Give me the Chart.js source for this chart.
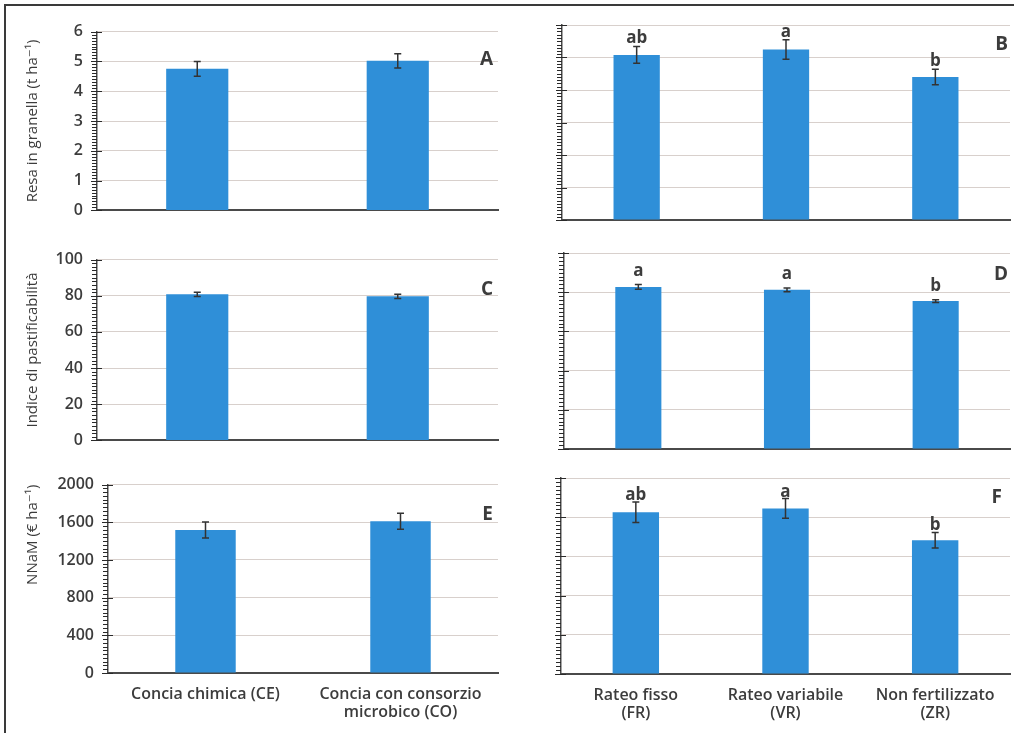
<!DOCTYPE html>
<html><head><meta charset="utf-8">
<script src="https://cdn.jsdelivr.net/npm/chart.js@4/dist/chart.umd.min.js"></script>
<style>
html,body{margin:0;padding:0;background:#fff;width:1017px;height:733px;overflow:hidden;}
#frame{position:absolute;left:4px;top:4px;width:1010px;height:760px;border-top:2px solid #3a3a3a;border-left:2px solid #3a3a3a;box-sizing:border-box;}
.p{position:absolute;}
canvas{display:block;}
</style></head><body>
<div id="frame"></div>
<div class="p" id="wA"><canvas id="cA"></canvas></div>
<div class="p" id="wB"><canvas id="cB"></canvas></div>
<div class="p" id="wC"><canvas id="cC"></canvas></div>
<div class="p" id="wD"><canvas id="cD"></canvas></div>
<div class="p" id="wE"><canvas id="cE"></canvas></div>
<div class="p" id="wF"><canvas id="cF"></canvas></div>
<script>
// ---------- DATA ----------
const treatmentLabels = ['Concia chimica (CE)', ['Concia con consorzio', 'microbico (CO)']];
const fertLabels = [['Rateo fisso', '(FR)'], ['Rateo variabile', '(VR)'], ['Non fertilizzato', '(ZR)']];

const yieldTreat = [4.75, 5.02];
const yieldTreatSE = [0.25, 0.24];
const yieldFert = [5.08, 5.25, 4.40];
const yieldFertSE = [0.26, 0.30, 0.24];
const yieldFertLetters = ['ab', 'a', 'b'];

const pastaTreat = [80.8, 79.7];
const pastaTreatSE = [1.2, 1.2];
const pastaFert = [82.7, 81.2, 75.5];
const pastaFertSE = [1.2, 1.0, 0.7];
const pastaFertLetters = ['a', 'a', 'b'];

const nnamTreat = [1518, 1610];
const nnamTreatSE = [85, 85];
const nnamFert = [1650, 1690, 1365];
const nnamFertSE = [105, 100, 80];
const nnamFertLetters = ['ab', 'a', 'b'];

const yieldTicks = [0, 1, 2, 3, 4, 5, 6];
const pastaTicks = [0, 20, 40, 60, 80, 100];
const nnamTicks = [0, 400, 800, 1200, 1600, 2000];

const yieldTitle = 'Resa in granella (t ha\u207B\u00B9)';
const pastaTitle = 'Indice di pastificabilit\u00E0';
const nnamTitle = 'NNaM (\u20AC ha\u207B\u00B9)';

// ---------- STYLE ----------
const TXT = '#3c3c3c';
const AXIS = '#4a4a4a';
const GRID = '#d8d0cc';
const BAR = '#2f8fd8';
const FONT = "'Open Sans', 'DejaVu Sans', sans-serif";

const decorPlugin = {
  id: 'decor',
  afterDatasetsDraw(chart) {
    const o = chart.options.plugins.decor;
    const ctx = chart.ctx;
    const ys = chart.scales.y;
    const meta = chart.getDatasetMeta(0);
    const ds = chart.data.datasets[0];
    ctx.save();
    ctx.strokeStyle = '#333333';
    ctx.lineWidth = 1.5;
    meta.data.forEach((el, i) => {
      const v = ds.data[i], e = o.err[i];
      const yt = ys.getPixelForValue(v + e), yb = ys.getPixelForValue(v - e);
      ctx.beginPath();
      ctx.moveTo(el.x, yt); ctx.lineTo(el.x, yb);
      ctx.moveTo(el.x - 3.5, yt); ctx.lineTo(el.x + 3.5, yt);
      ctx.moveTo(el.x - 3.5, yb); ctx.lineTo(el.x + 3.5, yb);
      ctx.stroke();
      if (o.letters) {
        ctx.fillStyle = TXT;
        ctx.font = "bold 17px " + FONT;
        ctx.textAlign = 'center';
        ctx.textBaseline = 'alphabetic';
        ctx.fillText(o.letters[i], el.x, yt - o.letterGap);
      }
    });
    ctx.restore();
  },
  afterDraw(chart) {
    const o = chart.options.plugins.decor;
    const ctx = chart.ctx;
    const ys = chart.scales.y;
    const a = chart.chartArea;
    const tv = o.ticks.slice();
    ctx.save();
    ctx.strokeStyle = '#2a2a2a';
    ctx.lineWidth = 1;
    const first = tv[0], last = tv[tv.length - 1];
    const minor = (tv[1] - tv[0]) / 10;
    const n = Math.round((last - first) / minor);
    const ax = Math.round(a.left);
    for (let k = 0; k <= n; k++) {
      const v = first + k * minor;
      const y = Math.round(ys.getPixelForValue(v)) + 0.5;
      const isMajor = (k % 10) === 0;
      ctx.beginPath();
      ctx.moveTo(ax - (isMajor ? 6 : 5), y);
      ctx.lineTo(ax + (isMajor ? 5 : 0), y);
      ctx.stroke();
    }
    ctx.fillStyle = TXT;
    ctx.font = "bold 19px " + FONT;
    ctx.textAlign = 'right';
    ctx.textBaseline = 'middle';
    ctx.fillText(o.panel, a.right - o.panelDx, a.top + o.panelDy);
    ctx.restore();
  }
};

function panel(id, g, labels, values, ticks, extra) {
  const wrap = document.getElementById('w' + id);
  const cv = document.getElementById('c' + id);
  const W = g.width;
  const H = g.plotBottom - g.top + g.xH;
  wrap.style.left = g.left + 'px';
  wrap.style.top = g.top + 'px';
  cv.width = W; cv.height = H;
  cv.style.width = W + 'px'; cv.style.height = H + 'px';
  return new Chart(cv, {
    type: 'bar',
    data: {
      labels: labels,
      datasets: [{ data: values, backgroundColor: BAR, borderWidth: 0,
                   barPercentage: 0.31, categoryPercentage: 1 }]
    },
    options: {
      responsive: false,
      animation: false,
      devicePixelRatio: 1,
      layout: { padding: { top: g.plotTop - g.top, right: g.left + W - g.plotRight, left: 0, bottom: 0 } },
      plugins: {
        legend: { display: false },
        tooltip: { enabled: false },
        decor: { err: extra.err, letters: extra.letters, letterGap: extra.letterGap || 3,
                 ticks: ticks, panel: id, panelDx: g.panelDx, panelDy: g.panelDy }
      },
      scales: {
        x: {
          grid: { display: false, drawTicks: false },
          border: { display: true, color: AXIS, width: 2 },
          ticks: { display: !!g.xLabels, color: TXT, padding: 12, maxRotation: 0, autoSkip: false,
                   font: { family: FONT, size: 16, weight: '600', lineHeight: 1.15 } },
          afterFit: s => { s.height = g.xH; }
        },
        y: {
          min: ticks[0], max: ticks[ticks.length - 1],
          afterBuildTicks: s => { s.ticks = ticks.map(v => ({ value: v })); },
          grid: { color: GRID, lineWidth: 1, drawTicks: false },
          border: { display: true, color: AXIS, width: 1.5 },
          ticks: { display: !!g.yLabels, color: TXT, padding: 14,
                   callback: v => String(v),
                   font: { family: FONT, size: 16, weight: '600' } },
          title: { display: !!extra.title, text: extra.title || '', color: TXT,
                   align: extra.titleAlign || 'center',
                   padding: { top: 24, bottom: 0 },
                   font: { family: FONT, size: 15, weight: '500' } },
          afterFit: s => { s.width = g.axisX - g.left; }
        }
      }
    },
    plugins: [decorPlugin]
  });
}

const L = { left: 0, width: 512 };
const R = { left: 520, width: 497 };

panel('A', { ...L, top: 8, plotTop: 25, plotBottom: 220, xH: 14, axisX: 97, plotRight: 498, yLabels: true, panelDx: 5, panelDy: 28 },
  treatmentLabels, yieldTreat, yieldTicks, { err: yieldTreatSE, title: yieldTitle });
panel('B', { ...R, top: 8, plotTop: 25, plotBottom: 220, xH: 14, axisX: 562, plotRight: 1010, panelDx: 2, panelDy: 20 },
  fertLabels, yieldFert, yieldTicks, { err: yieldFertSE, letters: yieldFertLetters, letterGap: 3 });
panel('C', { ...L, top: 236, plotTop: 253, plotBottom: 450, xH: 14, axisX: 97, plotRight: 498, yLabels: true, panelDx: 5, panelDy: 30 },
  treatmentLabels, pastaTreat, pastaTicks, { err: pastaTreatSE, title: pastaTitle });
panel('D', { ...R, top: 236, plotTop: 253, plotBottom: 449, xH: 14, axisX: 564, plotRight: 1010, panelDx: 2, panelDy: 22 },
  fertLabels, pastaFert, pastaTicks, { err: pastaFertSE, letters: pastaFertLetters, letterGap: 9 });
panel('E', { ...L, top: 461, plotTop: 478, plotBottom: 673, xH: 58, axisX: 108, plotRight: 498, yLabels: true, xLabels: true, panelDx: 5, panelDy: 30 },
  treatmentLabels, nnamTreat, nnamTicks, { err: nnamTreatSE, title: nnamTitle, titleAlign: 'end' });
panel('F', { ...R, top: 461, plotTop: 478, plotBottom: 674, xH: 57, axisX: 561, plotRight: 1010, xLabels: true, panelDx: 8, panelDy: 20 },
  fertLabels, nnamFert, nnamTicks, { err: nnamFertSE, letters: nnamFertLetters, letterGap: 2 });
</script>
</body></html>
